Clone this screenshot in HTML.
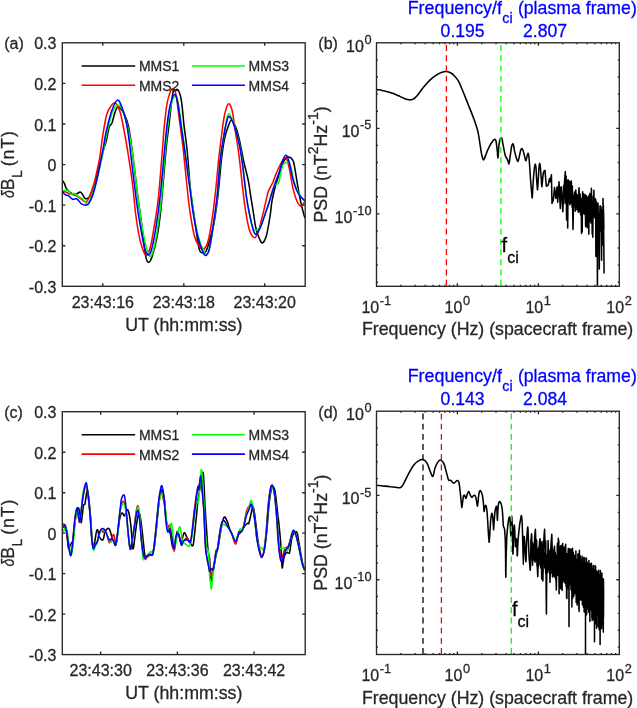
<!DOCTYPE html>
<html><head><meta charset="utf-8"><title>MMS wave figure</title>
<style>html,body{margin:0;padding:0;background:#fff}svg{display:block}text{stroke-width:0.28px;paint-order:stroke fill}</style></head>
<body>
<svg width="637" height="708" viewBox="0 0 637 708" font-family='"Liberation Sans", Arial, Helvetica, sans-serif'>
<rect width="637" height="708" fill="#fff"/>
<text x="56.4" y="49.3" font-size="16" text-anchor="end" fill="#262626" stroke="#262626">0.3</text>
<text x="56.4" y="89.9" font-size="16" text-anchor="end" fill="#262626" stroke="#262626">0.2</text>
<text x="56.4" y="130.5" font-size="16" text-anchor="end" fill="#262626" stroke="#262626">0.1</text>
<text x="56.4" y="171.1" font-size="16" text-anchor="end" fill="#262626" stroke="#262626">0</text>
<text x="56.4" y="211.6" font-size="16" text-anchor="end" fill="#262626" stroke="#262626">-0.1</text>
<text x="56.4" y="252.2" font-size="16" text-anchor="end" fill="#262626" stroke="#262626">-0.2</text>
<text x="56.4" y="292.8" font-size="16" text-anchor="end" fill="#262626" stroke="#262626">-0.3</text>
<text x="102.8" y="307.9" font-size="16" text-anchor="middle" fill="#262626" stroke="#262626">23:43:16</text>
<text x="183.8" y="307.9" font-size="16" text-anchor="middle" fill="#262626" stroke="#262626">23:43:18</text>
<text x="264.7" y="307.9" font-size="16" text-anchor="middle" fill="#262626" stroke="#262626">23:43:20</text>
<clipPath id="ca"><rect x="62.3" y="42.8" width="242.9" height="243.5"/></clipPath>
<g clip-path="url(#ca)" fill="none" stroke-width="1.55" stroke-linejoin="round" stroke-linecap="butt">
<path d="M62.3 180.5C62.6 181 63.7 182 64.4 183.3C65.1 184.6 65.2 186.8 66.3 188.4C67.3 190 69.2 191.8 70.7 192.8C72.2 193.8 73.5 194.7 75.1 194.6C76.7 194.5 78.8 192.1 80.1 192.1C81.3 192.1 81.8 193.5 82.6 194.6C83.4 195.7 84.1 197.8 85.1 198.4C86 199 87.2 198.8 88.3 198C89.3 197.2 90.1 196.8 91.4 193.4C92.8 190 94.5 184.5 96.4 177.7C98.3 170.9 101 158.9 102.7 152.6C104.4 146.3 105.5 144.2 106.5 140C107.5 135.8 108.1 130.6 109 127.7C109.9 124.8 111 125.4 112.1 122.7C113.1 120 114.2 114 115.3 111.4C116.3 108.8 116.9 106.6 118.4 107C119.9 107.4 122.4 110.7 124.1 113.9C125.8 117.2 127.2 120.4 128.5 126.5C129.8 132.6 130.8 139.8 132.2 150.4C133.6 161 135.5 177.9 137 190C138.5 202.1 139.9 211.6 141.4 222.7C142.9 233.8 144.6 250 145.8 256.6C147.1 263.2 147.9 262.2 148.9 262.2C149.9 262.2 150.7 260.9 152.1 256.6C153.5 252.3 155.6 244.5 157.1 236.5C158.6 228.5 159.4 223.2 160.9 208.8C162.4 194.4 164.7 164 166 150C167.3 136 167.9 134.3 169 125C170.1 115.7 171.6 99.7 172.7 93.9C173.8 88.1 174.5 90.6 175.5 90C176.5 89.4 177.5 88.6 178.5 90.5C179.5 92.4 180.6 95.6 181.5 101.4C182.4 107.2 183.1 117.2 184 125.3C184.9 133.4 186 139.2 187.1 150C188.2 160.8 189.3 179.2 190.5 190C191.7 200.8 192.6 205.4 194 215C195.4 224.6 197.5 241.5 198.9 247.8C200.3 254.1 201.5 252.2 202.7 252.8C203.8 253.4 204.8 253.3 205.8 251.6C206.9 249.9 207.7 247.4 209 242.8C210.3 238.2 212.3 231.6 213.8 224C215.3 216.4 216.5 207.7 217.8 197C219.1 186.3 220.3 169.7 221.4 160C222.5 150.3 223.4 144.4 224.5 139C225.6 133.6 226.5 130.8 227.7 127.7C228.9 124.6 230 120 231.5 120.2C233 120.4 235 125 236.5 129C238 133 239.1 138.8 240.3 144.1C241.5 149.4 242.3 155 243.6 161C244.9 167 246.9 173.6 248.2 180.2C249.5 186.8 250.3 193.7 251.4 200.3C252.5 206.9 253.8 215.4 254.5 220C255.2 224.6 255 224.5 255.8 227.7C256.6 230.9 258.4 236.5 259.5 239C260.6 241.5 261.5 243.4 262.7 242.8C263.9 242.2 265.2 239.8 266.5 235.2C267.8 230.6 269.3 220.9 270.2 215.1C271.1 209.3 271.2 205.1 272.1 200.3C273 195.5 274.1 191.1 275.3 186.5C276.5 181.9 278.1 177.3 279.5 173C280.9 168.7 282.5 163.4 284 160.7C285.5 158 286.9 157.1 288.4 157C289.9 156.9 291.8 158.3 292.8 160.1C293.9 161.9 294 163.8 294.7 167.6C295.4 171.4 296.2 177.2 297.2 182.7C298.1 188.1 299.2 194.9 300.4 200.3C301.5 205.8 303.3 212.5 304.1 215.4C304.9 218.3 304.9 217.6 305 218" stroke="#000"/>
<path d="M62.3 191.5C62.9 191.6 64.6 191.7 65.7 192.1C66.8 192.5 67.7 193.4 68.8 193.8C69.9 194.2 71.3 194.2 72.6 194.6C73.8 194.9 74.8 195.2 76.3 195.9C77.8 196.6 79.8 197.9 81.4 199C83 200.1 84.5 202.6 85.8 202.2C87.1 201.8 88.2 199.5 89.5 196.5C90.8 193.5 92.5 188.8 93.9 184C95.3 179.2 96.7 172.3 97.7 167.6C98.7 162.9 99.2 161.3 100 156C100.8 150.7 101.6 142.8 102.7 136C103.8 129.2 105.2 120 106.5 115.2C107.8 110.4 108.8 109 110.3 107C111.8 105 113.6 102 115.3 103C117 104 118.6 107 120.3 112.7C122 118.4 123.8 129.1 125.3 137C126.8 144.9 127.8 151.8 129.1 160.1C130.4 168.4 131.8 177.8 132.9 187C134 196.2 134.7 206.6 135.8 215C136.9 223.4 138.2 231.5 139.5 237.7C140.8 243.9 142.6 249.4 143.9 252.2C145.2 255 145.9 255.8 147.1 254.7C148.2 253.5 149.6 250.4 150.8 245.3C152.1 240.2 153.3 231.9 154.6 223.9C155.9 215.9 157.1 209.8 158.4 197.5C159.7 185.2 161.4 162.2 162.4 150C163.4 137.8 163.7 131.7 164.5 124C165.3 116.3 166.1 109.2 167 103.9C167.9 98.6 169.2 94.5 170.2 92C171.2 89.5 172 88.3 172.9 88.6C173.8 88.9 174.9 90.1 175.8 93.9C176.7 97.7 177.4 104.6 178.3 111.5C179.2 118.4 180.7 128.9 181.5 135.3C182.3 141.7 182.3 140.9 183.3 150C184.3 159.1 186.3 179.6 187.4 190C188.5 200.4 188.9 204.8 190.1 212.6C191.3 220.3 192.9 230.8 194.5 236.5C196.1 242.2 198 244.3 199.5 246.5C201 248.7 202 250.5 203.5 249.5C205 248.5 206.9 245.4 208.3 240.3C209.7 235.2 210.9 226.7 212.1 218.9C213.3 211.2 214.2 203.6 215.3 193.8C216.4 184 217.6 169.6 218.6 160C219.6 150.4 220.4 144 221.4 136.5C222.4 129 223.3 120.6 224.5 115.2C225.7 109.8 227 104.7 228.3 103.9C229.6 103.1 230.9 105.8 232.1 110.2C233.2 114.6 234 122.8 235.2 130.3C236.3 137.8 237.8 145.8 239 155.4C240.2 165 241.5 178.4 242.6 187.7C243.7 197 244.5 204.3 245.7 211.4C246.8 218.5 248 225.8 249.5 230.2C251 234.6 253 237.5 254.5 237.7C256 237.9 256.9 235.3 258.3 231.5C259.7 227.7 261.4 220.1 262.7 215.1C263.9 210.1 264.9 205.5 265.8 201.6C266.7 197.7 267.2 194.7 268.3 191.5C269.4 188.3 271.3 185.8 272.7 182.7C274.1 179.6 275 176 276.5 172.7C278 169.3 279.9 165 281.5 162.6C283.1 160.2 284.6 157.4 285.9 158.2C287.2 159 288 162.7 289.1 167.6C290.2 172.5 291.6 182.2 292.8 187.7C294.1 193.1 295.3 197.2 296.6 200.3C297.9 203.4 299.1 205.6 300.4 206C301.6 206.4 303.3 203.6 304.1 202.8C304.9 202 304.9 201.3 305 201" stroke="#f00"/>
<path d="M62.3 191.5C63 191.2 65.2 190 66.3 190C67.4 190 68 190.8 68.8 191.5C69.6 192.2 70.5 194 71.3 194.3C72.1 194.6 72.8 193.1 73.8 193.4C74.8 193.7 76.1 195 77.6 195.9C79.1 196.8 80.9 197.7 82.6 199C84.2 200.3 85.8 204.5 87.5 203.5C89.2 202.5 91 197.3 92.7 192.8C94.4 188.3 96 182.9 97.7 176.4C99.4 169.9 101.4 159.9 102.7 153.8C104 147.7 104.6 144.3 105.5 140C106.4 135.7 106.8 132.7 108 128C109.2 123.3 111 115.8 112.5 112C114 108.2 115.6 105.6 117.2 105.1C118.8 104.6 120.3 105.5 122 109C123.7 112.5 125.7 118.3 127.5 126C129.3 133.7 131.3 144.7 132.9 155.4C134.5 166.1 135.6 178.8 137 190C138.4 201.2 139.9 213.5 141.4 222.7C142.9 231.9 144.4 239.7 145.8 245.3C147.2 250.9 148.8 255.5 150 256.3C151.2 257.1 152.1 254.4 153.3 250.3C154.5 246.2 155.7 240.3 157.1 231.5C158.5 222.7 160.1 211.1 161.5 197.5C162.9 183.9 164.2 162 165.3 150C166.4 138 166.9 132.8 167.8 125.3C168.8 117.8 169.8 110.1 171 105.2C172.2 100.3 174 96.2 175.2 95.8C176.4 95.4 177.1 97.5 178.2 103C179.3 108.5 180.9 121.2 182 129C183.1 136.8 183.6 139.8 185 150C186.4 160.2 189 179.3 190.5 190C192 200.7 192.5 206.2 193.8 213.9C195.1 221.7 196.7 230.5 198.3 236.5C199.9 242.5 201.8 247.1 203.3 250C204.8 252.9 206 254.6 207.1 254.1C208.2 253.6 208.9 252 210 247C211.1 242 212.4 232.4 213.6 224C214.8 215.6 216.2 207.2 217.3 196.5C218.4 185.8 219.4 169.6 220.4 160C221.4 150.4 222.4 145.5 223.4 139C224.4 132.5 225.4 125.2 226.4 121C227.4 116.8 227.9 113.3 229.2 113.9C230.5 114.5 232.4 119.8 234 124.5C235.6 129.2 237.7 136.2 239 142C240.3 147.8 240.9 150.5 242.1 159.5C243.3 168.5 245 187 246.2 196C247.4 205 248.2 208.1 249.3 213.5C250.4 218.9 252 225.7 253 228.5C254 231.3 254.7 230.1 255.5 230.2C256.3 230.3 257.1 229.7 258 229C258.9 228.3 259.4 229.2 260.8 226C262.2 222.8 265.1 213.9 266.5 210C267.9 206.1 268.1 205.5 269 202.5C269.9 199.5 270.9 195 272 192C273.1 189 274.2 186 275.3 184.6C276.4 183.2 277.6 184.9 278.4 183.3C279.2 181.7 279.6 178.2 280.3 175.2C281 172.2 281.8 167.2 282.8 165.1C283.9 163 285.4 162.4 286.6 162.4C287.9 162.4 289.1 161.9 290.3 165.1C291.6 168.3 292.8 177.1 294.1 181.5C295.4 185.9 296.6 188.8 297.9 191.5C299.1 194.2 300.4 196.1 301.6 197.8C302.8 199.5 304.4 201 305 201.6" stroke="#0f0"/>
<path d="M62.3 190.9C62.8 191.5 63.9 193.8 65 194.6C66.1 195.4 67.5 195.1 68.8 195.9C70.1 196.7 71.2 198.8 72.6 199.3C74 199.8 75.5 198.2 77 199C78.5 199.8 79.8 202.8 81.4 203.8C83 204.8 85.2 205.2 86.4 205.1C87.7 205 87.9 205 88.9 203.4C90 201.8 91.5 199 92.7 195.3C94 191.7 95.2 186.7 96.4 181.5C97.7 176.3 98.9 170.2 100.2 163.9C101.5 157.6 103 149.4 104 143.8C105 138.2 105.2 135.7 106.5 130.3C107.8 124.9 109.7 116.4 111.5 111.4C113.3 106.4 115.5 100.9 117.2 100.1C118.9 99.3 120 102.4 121.6 106.4C123.2 110.4 125.3 118.1 126.6 124C127.9 129.9 128.2 133.9 129.3 142C130.4 150.1 131.9 164.7 132.9 172.7C133.9 180.7 134.2 182.9 135.1 190C136 197.1 137 205.8 138.5 215C140 224.2 142.4 238.7 143.9 245.3C145.4 251.9 146.4 254 147.7 254.7C149 255.4 150.1 254.2 151.5 249.7C152.9 245.2 154.4 236.8 155.9 227.7C157.4 218.6 158.9 207.9 160.3 195C161.7 182.1 163.4 161.6 164.5 150C165.6 138.4 166.1 132.8 167 125.3C167.9 117.8 168.9 110.3 170.2 105.2C171.4 100.1 173.2 94.9 174.5 94.5C175.8 94.1 176.5 97 177.7 102.7C178.9 108.5 180.3 121.1 181.5 129C182.7 136.9 183.2 139.8 184.6 150C186 160.2 188.6 179.3 190.1 190C191.6 200.7 192 206.2 193.3 213.9C194.6 221.7 196.1 230.2 197.7 236.5C199.3 242.8 201.3 248.5 202.7 251.6C204.1 254.7 205 255.9 206.2 255.3C207.3 254.7 208.4 253 209.6 247.8C210.8 242.6 212.2 232.5 213.4 223.9C214.7 215.3 216 207 217.1 196.3C218.2 185.7 219.2 169.6 220.2 160C221.2 150.4 222.3 145.2 223.3 139C224.3 132.8 225.4 126.5 226.4 122.7C227.4 118.9 227.9 116 229.2 116.4C230.5 116.8 232.4 120.8 234 125.2C235.6 129.6 237.6 136.5 239 142.8C240.4 149.1 241.1 154.1 242.3 163C243.5 171.9 245.2 188 246.4 196.5C247.6 205 248.3 208.3 249.5 213.9C250.7 219.5 252.2 226.8 253.3 230.2C254.5 233.5 255.1 234.6 256.4 234C257.6 233.4 259.1 230.4 260.8 226.4C262.5 222.4 265.1 214 266.5 210.1C267.9 206.2 267.8 206.7 269 202.8C270.2 198.9 272.3 191.5 274 186.5C275.7 181.5 277.5 177.1 279 172.7C280.5 168.3 281.6 163 282.8 160.1C284 157.2 285.1 155 286.2 155.3C287.2 155.6 288 158.1 289.1 162C290.2 165.9 291.6 174.2 292.8 178.9C294.1 183.6 295.3 187.4 296.6 190.3C297.9 193.2 299.1 194.9 300.4 196.5C301.6 198.1 303.3 199.3 304.1 200C304.9 200.7 304.9 200.4 305 200.5" stroke="#00f"/>
</g>
<path d="M62.3 83.4L65.3 83.4M305.2 83.4L302.2 83.4M62.3 124L65.3 124M305.2 124L302.2 124M62.3 164.6L65.3 164.6M305.2 164.6L302.2 164.6M62.3 205.1L65.3 205.1M305.2 205.1L302.2 205.1M62.3 245.7L65.3 245.7M305.2 245.7L302.2 245.7M102.8 286.3L102.8 283.3M102.8 42.8L102.8 45.8M183.8 286.3L183.8 283.3M183.8 42.8L183.8 45.8M264.7 286.3L264.7 283.3M264.7 42.8L264.7 45.8" stroke="#262626" stroke-width="1.35" fill="none"/>
<rect x="62.3" y="42.8" width="242.9" height="243.5" fill="none" stroke="#262626" stroke-width="1.35"/>
<path d="M81.6 65.9H135.2" stroke="#000" stroke-width="1.55"/>
<text x="138.9" y="71.3" font-size="14.0" text-anchor="start" fill="#262626" stroke="#262626">MMS1</text>
<path d="M81.6 85.2H135.2" stroke="#f00" stroke-width="1.55"/>
<text x="138.9" y="90.6" font-size="14.0" text-anchor="start" fill="#262626" stroke="#262626">MMS2</text>
<path d="M191.9 65.9H244.9" stroke="#0f0" stroke-width="1.55"/>
<text x="248.6" y="71.3" font-size="14.0" text-anchor="start" fill="#262626" stroke="#262626">MMS3</text>
<path d="M191.9 85.2H244.9" stroke="#00f" stroke-width="1.55"/>
<text x="248.6" y="90.6" font-size="14.0" text-anchor="start" fill="#262626" stroke="#262626">MMS4</text>
<text x="4.2" y="49.3" font-size="16" text-anchor="start" fill="#262626" stroke="#262626">(a)</text>
<text x="183.8" y="330.7" font-size="17.75" text-anchor="middle" fill="#262626" stroke="#262626">UT (hh:mm:ss)</text>
<g transform="translate(14.3 165.4) rotate(-90)">
<text transform="translate(-32.7 0) scale(0.8 1)" x="0" y="0" font-size="17.6" font-style="italic" fill="#262626" stroke="#262626">δ</text>
<text x="-24.8" y="0" font-size="17.6" fill="#262626" stroke="#262626">B</text>
<text x="-12.6" y="8.1" font-size="14.1" fill="#262626" stroke="#262626">L</text>
<text x="-0.9" y="0" font-size="17.6" letter-spacing="1" fill="#262626" stroke="#262626">(nT)</text>
</g>
<text x="56.4" y="418.2" font-size="16" text-anchor="end" fill="#262626" stroke="#262626">0.3</text>
<text x="56.4" y="458.7" font-size="16" text-anchor="end" fill="#262626" stroke="#262626">0.2</text>
<text x="56.4" y="499.2" font-size="16" text-anchor="end" fill="#262626" stroke="#262626">0.1</text>
<text x="56.4" y="539.6" font-size="16" text-anchor="end" fill="#262626" stroke="#262626">0</text>
<text x="56.4" y="580.1" font-size="16" text-anchor="end" fill="#262626" stroke="#262626">-0.1</text>
<text x="56.4" y="620.6" font-size="16" text-anchor="end" fill="#262626" stroke="#262626">-0.2</text>
<text x="56.4" y="661.1" font-size="16" text-anchor="end" fill="#262626" stroke="#262626">-0.3</text>
<text x="100.7" y="676.2" font-size="16" text-anchor="middle" fill="#262626" stroke="#262626">23:43:30</text>
<text x="177.4" y="676.2" font-size="16" text-anchor="middle" fill="#262626" stroke="#262626">23:43:36</text>
<text x="254.1" y="676.2" font-size="16" text-anchor="middle" fill="#262626" stroke="#262626">23:43:42</text>
<clipPath id="cc"><rect x="62.3" y="411.7" width="242.9" height="242.9"/></clipPath>
<g clip-path="url(#cc)" fill="none" stroke-width="1.55" stroke-linejoin="round" stroke-linecap="butt">
<path d="M62.4 524.3C62.9 524.4 64.5 524.1 65.2 525.2C65.9 526.3 66 527.3 66.5 531C67 534.7 67.8 544.8 68.3 547.5C68.8 550.2 69 547.7 69.5 547C70 546.3 70.7 544.3 71.3 543.1C71.9 541.9 72.4 543.2 73 540C73.6 536.8 74.2 528.7 74.8 524C75.4 519.3 75.9 514.7 76.5 512C77.1 509.3 78 507.5 78.6 508C79.2 508.5 79.6 512.5 80 515C80.4 517.5 80.8 522.9 81.2 522.9C81.6 522.9 81.9 517.9 82.3 515C82.7 512.1 83.1 507.2 83.5 505.4C83.9 503.6 84.5 505.4 84.9 504C85.3 502.6 85.6 499.2 86 497C86.4 494.8 86.8 490.7 87.2 490.5C87.6 490.3 88 491.9 88.5 496C89 500.1 89.8 508.2 90.4 515C91 521.8 91.5 531.8 91.9 537C92.3 542.2 92.6 544.9 93 546C93.4 547.1 93.9 545.9 94.4 543.6C95 541.3 95.8 534.6 96.3 532.3C96.8 530 97.2 529.3 97.7 529.9C98.2 530.5 98.5 534.4 99.1 536C99.7 537.6 100.8 539.3 101.5 539.8C102.2 540.3 102.9 540.1 103.4 538.9C104 537.6 104.2 533.9 104.8 532.3C105.3 530.7 106 530 106.7 529.4C107.4 528.8 108.4 528 109 528.5C109.6 529 110 530.9 110.5 532.3C111 533.7 111.4 535.5 111.9 537C112.5 538.5 113.2 540.2 113.8 541.5C114.4 542.8 115 546.4 115.7 545C116.4 543.6 117.1 537.2 117.7 533C118.3 528.8 119 523.1 119.5 520C120 516.9 120.5 515.4 121 514.2C121.5 513.1 122 512.8 122.6 513.1C123.1 513.4 123.6 516.2 124.3 515.8C125 515.4 125.9 511.8 126.5 510.9C127.1 510 127.5 509.2 128.1 510.3C128.7 511.4 129.2 513.9 129.8 517.5C130.4 521.1 131 527.2 131.4 531.8C131.8 536.4 132.2 542.2 132.5 545C132.8 547.8 132.9 549.7 133.3 548.5C133.7 547.3 134.3 541.9 134.8 538C135.3 534.1 135.9 528.9 136.4 525.2C136.9 521.5 137.5 518 138 516C138.5 514 138.9 512.7 139.3 513C139.7 513.3 140.1 515.4 140.5 518C140.9 520.6 141.3 523.3 141.9 528.5C142.5 533.7 143.6 544.7 144.1 549.3C144.6 553.9 144.6 554.8 145.2 555.9C145.8 557 146.6 556.2 147.4 555.9C148.2 555.6 149.2 554.5 150.1 554.3C150.9 554.1 151.8 556 152.5 554.8C153.2 553.6 153.6 551.7 154.3 547.1C155 542.5 155.8 534.4 156.5 527.4C157.2 520.4 158.1 510.6 158.7 505C159.3 499.4 159.8 496.5 160.3 494C160.9 491.5 161.3 489.1 162 490C162.7 490.9 163.6 494.8 164.3 499.6C165 504.4 165.4 514.3 166 519C166.6 523.7 167.1 525.5 167.8 528C168.5 530.5 169.7 531.2 170.4 534C171.1 536.8 171.5 542.5 172.1 545C172.7 547.5 173.5 550.2 174.1 549C174.7 547.8 175.4 540.9 175.9 538C176.4 535.1 176.6 532.5 177 531.8C177.4 531.1 177.8 532.1 178.5 534C179.2 535.9 180.3 542.3 181 543C181.7 543.7 181.9 539.8 182.5 538C183.1 536.2 183.6 532.5 184.3 532.4C185.1 532.3 185.9 535.5 187 537.4C188.1 539.3 189.9 542.7 190.9 544C191.9 545.3 192.5 546.9 193.1 545.1C193.7 543.3 194.1 537.8 194.7 533C195.2 528.2 195.8 522 196.4 516.5C197 511 197.4 504.8 198 500C198.6 495.2 199.4 491.7 200 488C200.6 484.3 200.9 480.4 201.5 478C202.1 475.6 202.7 469.4 203.3 473.7C203.9 478 204.4 494.6 204.9 504C205.4 513.4 206.1 522.3 206.6 530C207.1 537.7 207.5 545.3 208 550C208.5 554.7 209.2 555.2 209.6 558.2C209.9 561.2 209.8 564.2 210.1 568C210.4 571.8 211 580.2 211.4 580.9C211.8 581.6 212.1 574.5 212.5 572C212.9 569.5 213.5 568.3 214 566C214.5 563.7 215 560.5 215.5 558C216 555.5 216.5 553.2 217 551C217.5 548.8 218 547.5 218.5 545C219 542.5 219.4 539.5 220 536C220.6 532.5 221.3 527.2 222 524C222.7 520.8 223.6 517.5 224.4 517C225.2 516.5 226.3 519.2 227.1 520.9C227.9 522.6 228.3 525 229 527C229.7 529 230.4 530.6 231.5 533C232.6 535.4 234.3 541.1 235.4 541.5C236.5 541.9 237.1 536.9 238.1 535.2C239.1 533.5 240.6 532.6 241.6 531.2C242.6 529.8 243.1 528.3 244 527C244.9 525.7 246.3 524.1 247.1 523.5C247.9 522.9 248.1 524.6 248.7 523.5C249.2 522.4 249.8 519.3 250.4 516.9C251 514.5 251.6 510.9 252 509.2C252.4 507.5 252.6 505.9 253 506.5C253.4 507.1 253.9 509.2 254.5 513C255.1 516.8 255.9 524.3 256.5 529C257.1 533.7 257.4 537.3 258 541C258.6 544.7 259.2 548.4 259.8 551C260.4 553.6 261.1 556.6 261.8 556.5C262.6 556.4 263.5 554.2 264.3 550.3C265.1 546.4 265.8 540.4 266.6 533C267.4 525.6 268.2 513 268.9 506C269.6 499 270.3 494.2 271 491C271.7 487.8 272.3 486.9 273 487C273.7 487.1 274.4 487.4 275.1 491.6C275.9 495.8 276.9 506.5 277.5 512C278.1 517.5 278.5 519.8 279 524.6C279.5 529.4 280.1 535.4 280.5 541C280.9 546.6 281.2 553.5 281.5 558C281.8 562.5 281.9 567.2 282.2 567.9C282.5 568.6 282.8 564 283.2 562C283.6 560 283.9 557.4 284.5 555.8C285.1 554.2 285.8 553 286.6 552.5C287.4 552 288.8 553.9 289.4 553C290 552.1 290.1 549.6 290.5 547C290.9 544.4 291.4 539.6 292.1 537.1C292.8 534.6 294.1 532.8 294.9 532.1C295.7 531.4 296.5 531.1 297.1 532.7C297.7 534.3 298.1 538.3 298.7 541.5C299.3 544.7 299.9 548.4 300.5 552C301.1 555.6 301.9 560.2 302.5 563C303.1 565.8 303.8 567.8 304.2 569C304.6 570.2 304.9 569.8 305 570" stroke="#000"/>
<path d="M62.5 523.8C62.7 523.9 63.1 524.2 63.5 524.7C63.9 525.2 64.5 525.6 65 527C65.5 528.4 66 530 66.6 533C67.2 536 67.8 541.3 68.5 545C69.2 548.7 69.9 555 70.6 555C71.3 555 71.9 550.3 72.5 545C73.1 539.7 73.7 529 74.4 523C75.1 517 76.2 510.2 76.8 509C77.4 507.8 77.8 513.8 78.2 516C78.7 518.2 79 523.1 79.5 522.4C80 521.7 80.4 516.2 81 512C81.6 507.8 82.2 501.3 83 497C83.8 492.7 84.9 486.7 85.7 486C86.5 485.3 86.9 488.2 87.6 493C88.3 497.8 89.4 507.6 90.1 514.9C90.8 522.2 91.1 531.4 91.6 537C92.1 542.6 92.6 547 93.2 548.3C93.8 549.5 94.7 545.6 95.4 544.5C96.1 543.4 96.7 543.5 97.3 541.7C97.9 540 98.4 536.1 99.1 534C99.8 531.9 100.9 529.3 101.5 529C102.1 528.7 102.4 532 102.9 532.3C103.4 532.6 103.9 530.7 104.5 531C105.1 531.3 106 532.1 106.7 534C107.5 535.9 108.4 541 109 542.2C109.6 543.4 110 541.8 110.5 541C111 540.2 111.5 538.6 112 537.5C112.5 536.4 113.2 534 113.7 534.6C114.2 535.2 114.8 539.4 115.2 541C115.6 542.6 115.6 545.2 116 544C116.4 542.8 116.9 538.8 117.5 534C118.1 529.2 118.9 520 119.5 515C120.1 510 120.6 506.2 121.3 504C122 501.8 123 500.8 123.7 501.5C124.4 502.2 125.1 503.9 125.7 508C126.3 512.1 126.9 520.5 127.5 526.3C128.1 532.1 128.6 538.9 129.1 542.7C129.6 546.5 130 549.7 130.6 549C131.2 548.3 131.7 542.6 132.4 538.4C133.1 534.2 133.9 528.6 134.6 524C135.2 519.4 135.7 514 136.3 511C136.9 508 137.4 504.7 138 505.9C138.6 507.1 139.1 512.6 139.7 518C140.2 523.4 140.8 532.2 141.3 538C141.9 543.8 142.3 549.1 143 552.6C143.7 556.1 144.5 558.5 145.2 559.2C145.9 559.9 146.6 557.7 147.4 557C148.2 556.3 149.3 555.4 150.1 555C150.9 554.6 151.7 556.3 152.3 554.8C153 553.3 153.4 550.6 154 546C154.6 541.4 155.3 534.1 156 527.4C156.7 520.7 157.6 511.2 158.2 506C158.8 500.8 159.2 498.3 159.8 496C160.4 493.7 160.9 491.7 161.5 492.4C162.1 493.1 162.9 497.2 163.5 500C164.1 502.8 164.6 505.7 165 509C165.4 512.3 165.7 517 166.2 520C166.7 523 167.4 526.1 168 527C168.6 527.9 169.3 523.9 169.9 525.2C170.5 526.5 170.8 530.7 171.5 535C172.2 539.3 173.4 550.3 174.1 551C174.8 551.7 175.3 541.8 175.9 539C176.5 536.2 177 534.5 177.6 534C178.2 533.5 178.7 534.4 179.3 536.3C180 538.1 180.8 544.3 181.5 545.1C182.2 545.9 182.8 542.2 183.7 541C184.6 539.8 185.9 537.7 187 537.9C188.1 538.1 189.5 543.3 190.3 542.3C191.1 541.3 191.4 536.7 192 532C192.6 527.3 193.3 518.8 193.8 514.3C194.3 509.8 194.6 508.4 195 505C195.4 501.6 196 496.8 196.5 494C197 491.2 197.5 489.7 198 488C198.5 486.3 199 485.7 199.5 484C200 482.3 200.5 476.9 200.9 478C201.3 479.1 201.7 485.6 202.2 490.8C202.7 496.1 203.4 503.3 203.8 509.5C204.2 515.7 204.3 521.3 204.6 528C204.9 534.7 205.2 544 205.7 549.5C206.2 555 206.9 557.4 207.6 561.1C208.3 564.8 209.1 569 209.7 571.5C210.3 574 210.8 576.6 211.4 576.2C212 575.8 212.5 571.5 213 569C213.5 566.5 214 564 214.5 561C215 558 215.5 553.2 216 551C216.5 548.8 217 550.2 217.5 548C218 545.8 218.3 542 218.9 538C219.5 534 220.5 527.1 221.3 524.2C222.1 521.3 222.6 520.4 223.6 520.6C224.6 520.8 225.8 523.1 227.1 525.3C228.4 527.4 230.1 530.4 231.5 533.5C232.9 536.6 234.3 543.6 235.4 544C236.5 544.4 237.2 538.1 238 536C238.8 533.9 239.4 532.3 240 531.5C240.6 530.7 241 531.9 241.6 531C242.2 530.1 242.8 528.5 243.5 526C244.2 523.5 244.9 518.8 245.5 516C246.1 513.2 246.4 510.9 247.1 509.2C247.8 507.5 248.8 506.8 249.5 506C250.2 505.2 250.6 503.4 251.3 504.5C252 505.6 252.9 508.4 253.7 512.5C254.5 516.6 255.3 524.5 255.9 529C256.4 533.5 256.4 535.8 257 539.3C257.6 542.8 258.4 547.3 259.2 550.3C260 553.3 260.8 557.4 261.6 557.4C262.4 557.4 263.4 554.4 264.1 550.3C264.8 546.2 265.3 540.6 266 533C266.7 525.4 267.5 512.2 268.2 504.8C268.9 497.4 269.7 491.4 270.4 488.3C271.1 485.2 271.6 485.1 272.3 486C273 486.9 273.7 488.8 274.4 494C275.1 499.2 276 509.1 276.6 517C277.2 524.9 277.6 535 278.2 541.5C278.8 548 279.4 553.1 280 556C280.6 558.9 281.1 559.9 281.7 559.1C282.3 558.3 283.3 553.2 283.9 551.4C284.5 549.5 284.8 548.9 285.5 548C286.2 547.1 287.5 547.5 288.3 546C289.1 544.5 289.9 541.2 290.5 539C291.1 536.8 291.6 534.4 292.1 533C292.7 531.6 293.1 529.8 293.8 530.5C294.5 531.2 295.6 533.9 296.5 537C297.4 540.1 298.4 544.8 299.3 549C300.2 553.2 301.2 559.1 302 562.4C302.8 565.7 303.7 567.7 304.2 569C304.7 570.3 304.9 569.8 305 570" stroke="#f00"/>
<path d="M62.4 531C62.6 531 63.2 531.4 63.7 530.8C64.2 530.2 64.9 527.3 65.5 527.5C66.1 527.7 66.6 528.9 67.2 532C67.8 535.1 68.5 542.2 69.2 546C69.9 549.8 70.6 555.3 71.3 555C72 554.7 72.6 549.3 73.2 544C73.8 538.7 74.3 528.7 75 523C75.7 517.3 76.6 511.2 77.2 510C77.8 508.8 78.1 514.2 78.6 516C79.1 517.8 79.6 521.8 80 521C80.4 520.2 80.7 515.5 81.2 511C81.7 506.5 82.1 498.3 82.8 494C83.5 489.7 84.7 485.3 85.5 485C86.3 484.7 87 487.2 87.8 492.2C88.6 497.2 89.4 507.4 90.1 514.9C90.8 522.4 91.2 531.1 91.8 537C92.4 542.9 92.9 548.6 93.5 550.1C94.1 551.6 94.8 547.3 95.4 546C96 544.7 96.7 544.3 97.3 542.5C97.9 540.7 98.4 537.1 99.1 535C99.8 532.9 100.6 530.8 101.5 530C102.4 529.2 103.4 529.8 104.3 530.5C105.2 531.2 106 533 106.7 534.5C107.4 536 107.9 538.2 108.6 539.5C109.3 540.8 110.2 542.3 110.9 542.2C111.6 542.1 112 539.1 112.5 539C113 538.9 113.3 540.7 113.8 541.7C114.3 542.7 115.1 546.2 115.7 545.2C116.3 544.2 116.9 540.9 117.5 536C118.1 531.1 118.9 520.8 119.5 516C120.1 511.2 120.6 509.1 121.2 507C121.8 504.9 122.5 503.4 123.2 503.7C123.9 504 124.8 505.2 125.5 509C126.2 512.8 127 520.7 127.6 526.3C128.2 531.9 128.7 538.9 129.2 542.7C129.7 546.5 130.1 550 130.7 549.3C131.2 548.6 131.8 542.4 132.5 538.4C133.2 534.4 134 529.6 134.7 525.2C135.4 520.8 135.9 514.9 136.5 512C137.1 509.1 137.8 506.4 138.4 507.6C139 508.8 139.5 513.9 140 519C140.5 524.1 141 531.5 141.5 538C142 544.5 142.4 554.7 143 558.1C143.6 561.5 144.3 559 145 558.5C145.7 558 146.5 556.2 147.4 555C148.3 553.8 149.8 551.8 150.7 551.5C151.6 551.2 152.2 553.9 152.8 553C153.4 552.1 153.7 550.3 154.3 546C154.9 541.7 155.7 534.2 156.4 527.4C157.1 520.6 157.9 510.1 158.6 505C159.2 499.9 159.7 498.3 160.3 496.5C160.9 494.7 161.4 493.4 162.1 494C162.8 494.6 163.7 497.3 164.3 500C164.9 502.7 165.1 506.4 165.5 510C165.9 513.6 166.1 518.6 166.5 521.9C166.9 525.2 167.4 529.1 168 530C168.6 530.9 169.3 528.1 169.9 527C170.5 525.9 171.1 522.3 171.6 523.6C172.1 524.9 172.4 531.2 173 535C173.6 538.8 174.3 545.6 174.9 546.2C175.5 546.8 176.1 541 176.6 538.5C177.1 536 177.6 532.9 178.2 531C178.8 529.1 179.4 526.4 179.9 526.9C180.4 527.4 180.9 531.5 181.3 534C181.8 536.5 181.9 540.1 182.6 541.8C183.3 543.5 184.3 543.3 185.4 544C186.5 544.7 188.3 546.7 189.2 546.2C190.1 545.7 190.4 543.2 191 541C191.6 538.8 191.9 537.5 192.5 533C193.1 528.5 194.1 518.6 194.7 514.3C195.2 510 195.4 509.1 195.8 507C196.2 504.9 196.8 502.9 197.2 502C197.6 501.1 198 503.8 198.4 501.8C198.8 499.8 199.1 494.3 199.5 490C199.9 485.7 200.3 479.4 200.7 476C201 472.6 201.2 468.4 201.6 469.9C201.9 471.4 202.4 478.5 202.8 485C203.2 491.5 203.9 501.9 204.3 509C204.7 516.1 204.6 521.3 205 527.5C205.4 533.7 205.9 541.8 206.5 546C207.1 550.2 208 548 208.5 552.7C209 557.4 209.2 569.2 209.5 574.3C209.8 579.3 210.2 580.6 210.5 583C210.8 585.4 211.1 589.2 211.4 588.9C211.7 588.6 212 583.8 212.3 581C212.6 578.2 212.9 575.6 213.3 572.4C213.7 569.2 214.2 565.5 214.7 562C215.2 558.5 215.7 553.8 216.2 551.6C216.7 549.4 217.2 551 217.7 549C218.2 547 218.4 543.2 219.1 539.4C219.8 535.6 220.9 528.5 221.8 526C222.7 523.5 223.5 524.5 224.4 524.7C225.3 524.9 226.3 525.6 227.5 527C228.7 528.4 230.2 530.6 231.5 533C232.8 535.4 234.3 541.3 235.4 541.5C236.5 541.7 237.3 536.1 238.1 534C238.9 531.9 239.4 529.7 240 529C240.6 528.3 241 530.5 241.6 530C242.2 529.5 243.1 528.3 243.8 526C244.5 523.7 245.2 519 246 516C246.8 513 247.8 510.6 248.7 508C249.6 505.4 250.5 500.1 251.3 500.4C252.1 500.7 252.8 505.2 253.5 510C254.2 514.8 255.1 524.1 255.7 529C256.3 533.9 256.5 536.6 257 539.3C257.5 542 258.1 543.7 258.5 545C258.9 546.3 259.3 546.6 259.7 547C260.1 547.4 260.5 547.2 261 547.6C261.5 548 262 549 262.5 549.2C263 549.4 263.5 551.7 264.1 549C264.7 546.3 265.6 540.3 266.3 533C267 525.7 267.8 512.2 268.5 505C269.2 497.8 270 492.8 270.7 490C271.4 487.2 271.9 487.2 272.5 488C273.1 488.8 273.9 490.2 274.6 495C275.3 499.8 276.2 509.8 276.8 517C277.4 524.2 277.9 533.2 278.4 538C278.8 542.8 279.1 544.2 279.5 546C279.9 547.8 280 548.3 280.6 548.6C281.2 548.9 282.3 548.1 283 548C283.7 547.9 284.3 547.5 285 548.1C285.7 548.7 286.6 551.6 287.2 551.4C287.8 551.2 288.2 548.9 288.8 547C289.4 545.1 289.9 542.3 290.5 540C291.1 537.7 291.6 535 292.1 533.4C292.7 531.8 293.1 529.9 293.8 530.5C294.5 531.1 295.6 533.9 296.5 537C297.4 540.1 298.4 544.7 299.3 549C300.2 553.3 301.2 559.5 302 563C302.8 566.5 303.7 568.6 304.2 570C304.7 571.4 304.9 571 305 571.2" stroke="#0f0"/>
<path d="M62.4 528C62.8 527.7 64 525.9 64.7 526.4C65.4 526.9 66 528 66.6 531C67.2 534 67.8 540.4 68.5 544.5C69.2 548.6 70.1 556 70.8 555.8C71.5 555.5 72.1 548.6 72.7 543C73.3 537.4 73.9 527.9 74.6 522C75.3 516.1 76.4 508.8 77 507.8C77.6 506.8 77.9 513.5 78.4 515.8C78.9 518.1 79.3 522.2 79.8 521.4C80.3 520.6 80.7 515.3 81.2 511.1C81.8 506.9 82.3 500.7 83.1 496C83.9 491.3 85.1 483.4 85.9 482.8C86.7 482.2 87.1 486.9 87.8 492.2C88.5 497.5 89.5 507.4 90.1 514.9C90.7 522.4 91.1 531.4 91.6 537C92.1 542.6 92.6 547 93.2 548.3C93.8 549.5 94.7 545.6 95.4 544.5C96.1 543.4 96.7 543.5 97.3 541.7C97.9 540 98.4 536.1 99.1 534C99.8 531.9 100.6 529.8 101.5 529C102.4 528.2 103.4 528.6 104.3 529.4C105.2 530.2 106 532.4 106.7 534C107.4 535.6 108 538 108.6 539C109.2 540 110 539.9 110.5 539.8C111 539.7 111.4 538.1 111.9 538.4C112.5 538.7 113.2 540.6 113.8 541.7C114.4 542.8 115 546.5 115.6 545C116.2 543.5 116.9 538.5 117.6 533C118.3 527.5 119.2 517.7 119.9 512C120.6 506.3 120.8 501.6 121.5 498.8C122.2 496 123.6 494 124.3 495.3C125 496.6 125.4 501.3 125.9 506.5C126.5 511.7 127 520.3 127.6 526.3C128.1 532.3 128.7 538.9 129.2 542.7C129.7 546.5 130.1 550 130.7 549.3C131.2 548.6 131.8 542.4 132.5 538.4C133.2 534.4 134 529.2 134.7 525.2C135.3 521.2 135.8 516.6 136.4 514.2C137 511.8 137.4 509.8 138 510.9C138.6 512 139.1 516 139.7 520.8C140.2 525.6 140.8 534.2 141.3 539.5C141.9 544.8 142.4 549.5 143 552.6C143.6 555.7 144.2 557.6 144.9 558.1C145.6 558.6 146.5 556.5 147.4 555.9C148.3 555.3 149.3 554.5 150.1 554.3C150.9 554.1 151.7 556 152.3 554.8C153 553.6 153.3 551.7 154 547.1C154.7 542.5 155.5 534.6 156.2 527.4C156.9 520.2 157.8 509.9 158.4 504C159 498.1 159.4 495 160 492C160.6 489 161.2 484.5 161.9 485.8C162.6 487.1 163.6 493.6 164.3 499.6C165 505.6 165.4 516.5 166 521.9C166.6 527.3 167 530.6 167.7 531.8C168.3 533 169.3 528.3 169.9 529C170.5 529.7 170.8 533 171.5 536.2C172.2 539.4 173.4 548 174.1 548.2C174.8 548.4 175.3 539.8 175.9 537.3C176.5 534.8 177 533.7 177.6 533.5C178.2 533.3 178.7 534.4 179.3 536.3C180 538.2 180.8 544.4 181.5 545.1C182.2 545.8 182.7 541.5 183.7 540.7C184.7 539.9 186.5 539.8 187.6 540.1C188.7 540.4 189.6 543.5 190.3 542.3C191 541.1 191.3 537.7 192 533C192.7 528.3 193.7 518.6 194.2 514.3C194.7 510 194.7 510.5 195.1 507.3C195.5 504.1 196.2 498.7 196.7 495.2C197.2 491.7 197.6 487.3 198 486.4C198.4 485.5 198.6 490.8 198.9 489.7C199.2 488.6 199.7 482 200 479.8C200.3 477.6 200.5 474.7 200.9 476.5C201.3 478.3 201.7 485.3 202.2 490.8C202.7 496.3 203.4 503.3 203.8 509.5C204.2 515.7 204.3 521.3 204.6 528C204.9 534.7 205.2 544 205.7 549.5C206.2 555 207.1 558.4 207.6 561.1C208.1 563.8 208.2 564.1 208.6 565.8C208.9 567.5 209.1 571 209.7 571.5C210.2 572 211.3 569 211.9 568.7C212.5 568.4 212.8 570.9 213.3 569.6C213.8 568.3 214.2 564.1 214.7 561.1C215.2 558.1 215.6 553.6 216.1 551.7C216.6 549.8 217 551.8 217.5 549.8C218 547.8 218.6 541.8 218.9 539.4C219.2 537 219.1 537.7 219.5 535.2C219.9 532.7 220.9 526.7 221.6 524.2C222.3 521.7 222.9 520.1 223.8 520.3C224.7 520.5 225.8 523.2 227.1 525.3C228.4 527.4 230.1 530.3 231.5 533C232.9 535.7 234.3 541.1 235.4 541.5C236.5 541.9 237.5 536.7 238.1 535.2C238.7 533.7 238.2 533 238.8 532.3C239.4 531.6 240.8 532.1 241.6 531.2C242.4 530.3 243.1 529.2 243.8 526.8C244.5 524.4 245.2 519.6 246 516.9C246.8 514.1 247.8 512.4 248.7 510.3C249.6 508.2 250.5 503.8 251.3 504.2C252.1 504.6 252.9 508.4 253.7 512.5C254.5 516.6 255.3 524.5 255.9 529C256.4 533.5 256.4 535.8 257 539.3C257.6 542.8 258.4 547.3 259.2 550.3C260 553.3 260.8 557.4 261.6 557.4C262.4 557.4 263.3 554.4 264.1 550.3C264.9 546.2 265.6 540.6 266.3 533C267 525.4 267.8 512.2 268.5 504.8C269.2 497.4 270 491.5 270.7 488.3C271.4 485.1 271.9 484.6 272.5 485.5C273.1 486.4 273.9 488.6 274.6 493.8C275.3 499.1 276.2 509.1 276.8 517C277.4 525 277.9 534.9 278.4 541.5C278.9 548.1 279.5 553.5 280 556.9C280.5 560.3 280.8 561.8 281.4 561.8C282 561.8 282.7 558.8 283.4 556.9C284.1 555 284.7 551.9 285.5 550.3C286.3 548.6 287.5 548.7 288.3 547C289.1 545.3 289.9 542.3 290.5 540C291.1 537.7 291.6 535 292.1 533.4C292.7 531.8 293.1 529.9 293.8 530.5C294.5 531.1 295.6 533.9 296.5 537C297.4 540.1 298.4 544.8 299.3 549C300.2 553.2 301.2 559.1 302 562.4C302.8 565.7 303.7 567.7 304.2 569C304.7 570.3 304.9 569.8 305 570" stroke="#00f"/>
</g>
<path d="M62.3 452.2L65.3 452.2M305.2 452.2L302.2 452.2M62.3 492.7L65.3 492.7M305.2 492.7L302.2 492.7M62.3 533.1L65.3 533.1M305.2 533.1L302.2 533.1M62.3 573.6L65.3 573.6M305.2 573.6L302.2 573.6M62.3 614.1L65.3 614.1M305.2 614.1L302.2 614.1M100.7 654.6L100.7 651.6M100.7 411.7L100.7 414.7M177.4 654.6L177.4 651.6M177.4 411.7L177.4 414.7M254.1 654.6L254.1 651.6M254.1 411.7L254.1 414.7" stroke="#262626" stroke-width="1.35" fill="none"/>
<rect x="62.3" y="411.7" width="242.9" height="242.9" fill="none" stroke="#262626" stroke-width="1.35"/>
<path d="M81.6 434.8H135.2" stroke="#000" stroke-width="1.55"/>
<text x="138.9" y="440.2" font-size="14.0" text-anchor="start" fill="#262626" stroke="#262626">MMS1</text>
<path d="M81.6 454.1H135.2" stroke="#f00" stroke-width="1.55"/>
<text x="138.9" y="459.5" font-size="14.0" text-anchor="start" fill="#262626" stroke="#262626">MMS2</text>
<path d="M191.9 434.8H244.9" stroke="#0f0" stroke-width="1.55"/>
<text x="248.6" y="440.2" font-size="14.0" text-anchor="start" fill="#262626" stroke="#262626">MMS3</text>
<path d="M191.9 454.1H244.9" stroke="#00f" stroke-width="1.55"/>
<text x="248.6" y="459.5" font-size="14.0" text-anchor="start" fill="#262626" stroke="#262626">MMS4</text>
<text x="4.2" y="418.2" font-size="16" text-anchor="start" fill="#262626" stroke="#262626">(c)</text>
<text x="183.8" y="699" font-size="17.75" text-anchor="middle" fill="#262626" stroke="#262626">UT (hh:mm:ss)</text>
<g transform="translate(14.3 533.9) rotate(-90)">
<text transform="translate(-32.7 0) scale(0.8 1)" x="0" y="0" font-size="17.6" font-style="italic" fill="#262626" stroke="#262626">δ</text>
<text x="-24.8" y="0" font-size="17.6" fill="#262626" stroke="#262626">B</text>
<text x="-12.6" y="8.1" font-size="14.1" fill="#262626" stroke="#262626">L</text>
<text x="-0.9" y="0" font-size="17.6" letter-spacing="1" fill="#262626" stroke="#262626">(nT)</text>
</g>
<text x="361.4" y="312.5" font-size="16" text-anchor="start" fill="#262626" stroke="#262626">10</text>
<text x="379.8" y="304.9" font-size="12.8" text-anchor="start" fill="#262626" stroke="#262626">-1</text>
<text x="444.5" y="312.5" font-size="16" text-anchor="start" fill="#262626" stroke="#262626">10</text>
<text x="462.9" y="304.9" font-size="12.8" text-anchor="start" fill="#262626" stroke="#262626">0</text>
<text x="525.4" y="312.5" font-size="16" text-anchor="start" fill="#262626" stroke="#262626">10</text>
<text x="543.8" y="304.9" font-size="12.8" text-anchor="start" fill="#262626" stroke="#262626">1</text>
<text x="606.3" y="312.5" font-size="16" text-anchor="start" fill="#262626" stroke="#262626">10</text>
<text x="624.7" y="304.9" font-size="12.8" text-anchor="start" fill="#262626" stroke="#262626">2</text>
<text x="346" y="51.8" font-size="16" text-anchor="start" fill="#262626" stroke="#262626">10</text>
<text x="364.4" y="43.9" font-size="12.8" text-anchor="start" fill="#262626" stroke="#262626">0</text>
<text x="341.7" y="137.3" font-size="16" text-anchor="start" fill="#262626" stroke="#262626">10</text>
<text x="360.1" y="129.4" font-size="12.8" text-anchor="start" fill="#262626" stroke="#262626">-5</text>
<text x="334.6" y="222.8" font-size="16" text-anchor="start" fill="#262626" stroke="#262626">10</text>
<text x="353" y="214.9" font-size="12.8" text-anchor="start" fill="#262626" stroke="#262626">-10</text>
<clipPath id="cb"><rect x="376.5" y="42.8" width="242.8" height="243.5"/></clipPath>
<g clip-path="url(#cb)" fill="none" stroke-width="1.55">
<path d="M376.5 89.5C377.4 89.7 380 90 382 90.4C384 90.8 386.6 91.4 388.6 92C390.6 92.6 392.3 93.2 394 93.8C395.7 94.4 397.3 95.2 398.6 95.8C399.9 96.4 400.9 96.9 402 97.4C403.1 97.9 404 98.3 404.9 98.7C405.8 99.1 406.7 99.4 407.5 99.6C408.3 99.8 409.1 99.9 409.9 99.9C410.6 99.9 411.4 99.8 412 99.6C412.6 99.4 413.1 99.3 413.7 98.9C414.3 98.5 414.9 98 415.5 97.4C416.1 96.8 416.7 96.2 417.5 95.2C418.3 94.2 419.5 92.6 420.5 91.2C421.5 89.8 422.6 88.3 423.7 87C424.8 85.7 425.9 84.5 427 83.3C428.1 82.1 429 81.1 430 80.1C431 79.1 432.1 78.2 433.1 77.4C434.2 76.6 434.9 75.9 436.3 75.1C437.7 74.3 439.6 73.2 441.3 72.6C443 72 444.7 71.5 446.4 71.6C448.1 71.7 450.1 72.5 451.4 73.2C452.7 73.9 453 74.5 454.1 75.7C455.2 76.9 456.9 78.4 458.2 80.6C459.5 82.8 460.8 86.2 462 89C463.2 91.8 464.3 94.8 465.3 97.3C466.3 99.8 467.1 101.7 468 104C468.9 106.3 470 108.9 471 111.4C472 114 473.2 117.1 474 119.3C474.8 121.5 475.2 122.7 475.8 124.5C476.4 126.3 477 128 477.5 130C478 132 478.2 132.5 478.8 136.3C479.4 140.1 480.7 149 481.3 152.6C481.9 156.2 482.2 156.8 482.6 158C483 159.2 483.3 159.8 483.6 159.9C483.9 160 484.1 159.1 484.5 158.3C484.9 157.5 485 157 485.7 155.2C486.4 153.4 487.6 149.9 488.8 147.6C490 145.3 491.7 142.6 492.6 141.3C493.5 140 493.6 140 494 139.7C494.4 139.4 494.8 139.2 495.1 139.4C495.4 139.6 495.8 140.1 496 141C496.2 141.9 496.4 143.3 496.6 145.1C496.8 146.9 497.2 149.8 497.4 152C497.6 154.2 497.7 158.3 497.9 158.3C498.1 158.3 498.2 154.4 498.4 152C498.6 149.6 498.8 145.9 499.1 143.8C499.4 141.7 499.6 140.5 500 139.5C500.4 138.5 500.8 137.6 501.2 137.6C501.6 137.6 501.9 138.5 502.2 139.5C502.5 140.5 502.4 141.2 502.9 143.8C503.4 146.4 504.5 152.7 505.2 155.2C505.9 157.7 506.6 157.8 507.1 158.9C507.6 160 508 161.2 508.3 162C508.6 162.8 508.7 164.1 508.9 163.9C509.1 163.7 509.2 162.7 509.5 161C509.8 159.3 510.1 156.3 510.5 153.9C510.9 151.5 511.2 148.2 511.6 146.5C512 144.8 512.4 143.9 512.7 143.8C513.1 143.7 513.4 144.7 513.7 146C514 147.3 514.1 149.3 514.6 151.4C515.1 153.5 516 156.8 516.5 158.5C517 160.2 517.4 161.2 517.7 161.4C518.1 161.6 518.3 160.5 518.6 159.5C518.9 158.5 519.2 156.8 519.6 155.2C520 153.6 520.3 151.3 520.7 150.2C521.1 149.1 521.4 148.6 521.8 148.6C522.2 148.6 522.5 149.1 522.9 150C523.3 150.9 523.6 152.4 524 153.9C524.4 155.4 524.9 157.7 525.2 158.8C525.5 160 525.6 161 525.9 160.8C526.2 160.6 526.4 158.8 526.8 157.5C527.1 156.2 527.6 153.4 528 153.3C528.4 153.2 528.6 154.8 528.9 157C529.2 159.2 529.4 162 529.7 166.5C530 171 530.5 179.4 530.9 184C531.2 188.6 531.6 191.7 531.8 194C532 196.3 532.1 198.2 532.2 197.9C532.3 197.6 532.4 195.2 532.6 192C532.8 188.8 533.1 183 533.4 179C533.7 175 534.1 170.5 534.4 168C534.7 165.5 535 163.9 535.3 163.9C535.6 163.9 535.8 165.5 536 168C536.2 170.5 536.4 175.8 536.6 179C536.8 182.2 537.1 185.2 537.2 187C537.4 188.8 537.4 190 537.5 189.7C537.6 189.4 537.7 187.4 537.9 185C538.1 182.6 538.3 178.4 538.5 175.3C538.7 172.2 538.9 168.5 539.1 166.5C539.3 164.5 539.5 163.3 539.7 163.3C539.9 163.3 540.1 164.5 540.3 166.5C540.5 168.5 540.8 172.4 541 175.3C541.2 178.2 541.5 182.1 541.6 184C541.8 185.9 541.8 186.9 541.9 186.6C542 186.3 542.2 184.1 542.4 182C542.6 179.9 542.9 175.8 543.2 174C543.5 172.2 544 171.4 544.1 170.9L545 170.4L546.3 186.3L548.2 185L549.5 178.6L550.3 181.8L551.4 174.8L552 203.4L553.3 200.3L554.5 187.5L555.8 198.3L557.1 186.9L557.7 202.2L559 181.8L560.3 208.5L560.9 187L561.5 186.9L562.8 211.7L563.6 192L564.1 188.2L564.8 178L565.3 171.6L565.7 200L566.1 176L566.6 220L567 181L567.3 180.5L567.7 227.9L568.1 179.8L568.6 197L569.1 181L569.6 196L570.1 182L570.6 197.5L571.3 180.9L571.8 197L572.3 186L573 229.6L573.6 196L574.1 207L574.6 192L575.2 204L575.8 190L576.4 203L577 209.8L577.6 195L578.2 205L579 187.7L579.6 206L580.1 194L580.7 215L581.2 199L581.5 233.5L581.9 205L582.2 232L582.6 191.7L582.7 197.4L583 211.2L583.4 194.8L583.5 193.8L583.8 201.7L584.1 208.9L584.5 201L584.7 199.2L584.9 194.5L585.2 200.7L585.6 222.3L585.6 226.6L586 196.7L586.1 195.7L586.5 203.1L586.7 214.5L586.9 212.5L587.2 227.7L587.5 200.5L587.5 200.4L587.9 215.6L588.2 197L588.3 196.8L588.6 199.5L588.8 234.1L589.2 195.4L589.6 221.6L589.8 201.3L590 193.4L590.4 197.1L590.7 209.6L590.8 205.3L591 223.1L591.4 188.5L591.4 188.3L591.8 214.4L592 196L592.2 234.1L592.5 204.5L592.8 237.2L593.1 200.7L593.5 209.7L593.6 212.7L593.9 190.3L594.1 208.9L594.4 202.6L594.7 210.6L594.9 205.9L595.1 217.2L595.4 198.9L595.7 215.7L595.9 256.5L596.3 211.8L596.5 201.7L596.9 221.8L597 230L597.3 215.9L597.4 290L597.6 247.6L597.9 206.4L598 203.2L598.4 225L598.4 225.1L598.6 215.6L598.9 243.7L599.1 236.3L599.3 269L599.6 224.4L600 206.8L600 206.4L600.2 205.8L600.5 221.4L600.7 231L601 206.7L601.3 219.5L601.6 260.3L601.7 232.7L601.9 224.4L602 225.9L602.2 219.5L602.4 245L602.6 209.6L602.8 239.1L603 198.5L603.2 214.7L603.4 205.9L604.1 273.4" stroke="#000" stroke-width="1.55" stroke-linejoin="round"/>
<path d="M562 197.6L562.2 200.3L562.4 199.9L562.8 204.6L563.1 195.3L563.2 195.2L563.5 204.1L563.8 186.1L564 185.2L564.3 194.3L564.4 195.6L564.8 187.8L564.8 187.7L565.1 193.6L565.4 203.1L565.6 199.5L565.9 202.5L566.3 191.7L566.6 183.4L566.7 183.4L567 198.2L567.1 201.5L567.4 187.7L567.7 195.5L568 203.3L568.3 185.9L568.4 185.2L568.8 196.7L568.9 199.4L569.2 191.7L569.5 188.8L569.8 204.7L570.1 191.8L570.5 203L570.5 203.2L570.7 200.3L570.8 200.8L571.1 195.3L571.4 198.1L571.7 191.5L572.1 206.9L572.4 191.8L572.7 206.5L573 197.1L573.3 202.8L573.6 195.7L573.9 198.7L574.3 194.8L574.6 206.2L574.9 197.8L575.2 211.2L575.6 197.2L575.6 197.1L576 198.4L576.2 207.6L576.5 194L576.9 200.7L577 200.2L577.4 202.6L577.6 209.9L577.8 204.5L577.9 206.8L578.1 201.6L578.3 212.3L578.6 198.8L579 209.5L579 210.7L579.3 199.6L579.6 211.8L579.8 202L580 206.4L580.2 199.6L580.4 204.1L580.7 197.7L580.9 212L581.2 200L581.5 213.4L581.8 200.8L581.9 203.1L582.1 201L582.4 211.7L582.5 205L582.7 213.5L583 208.6L583.2 211.6L583.5 204.6L583.7 209.7L583.9 204.2L584.2 214.1L584.5 197.9L584.6 197.1L584.9 202.8L585.1 196.8L585.4 214.4L585.8 204.4L586.1 201.8L586.4 212.8L586.6 196.1L586.9 210.8L587 201.3L587.2 203.6L587.4 198L587.6 213.3L587.7 206.9L587.8 211L588.1 199.8L588.3 215.1L588.5 201.3L588.9 206.7L589.1 208.9L589.3 205.5L589.5 215.9L589.8 202.5L590 204.1L590.1 203.4L590.4 211.7L590.6 202.6L590.8 216.4L591.1 199.8L591.2 198.8L591.4 201.3L591.5 201.1L591.9 205.6L592.2 215.8L592.5 201.2L592.6 200.8L592.9 213.1L593 213L593.1 217.3L593.5 197.2L593.7 205.4L593.8 202L594 214.7L594.2 209.7L594.3 213.5L594.5 204.5L594.8 210.1L594.8 210.2L594.9 210L595 217.9L595.2 208.2L595.3 213.8L595.5 199.2L595.7 217.5L595.8 202L596.1 215L596.3 206.7L596.6 213.2L596.7 211.7L597 227.4L597.2 220.4L597.4 222.3L597.5 219.6L597.7 226.4L597.8 218.7L597.9 221.3L598.1 216.1L598.5 227.5L598.5 227.6L598.7 219.4L598.9 229.9L599.1 218.4L599.2 229.1L599.4 216.9L599.5 220.3L599.6 218.2L599.7 223.4L599.8 212.9L600 227.1L600.2 213.6L600.4 218.4L600.6 213.6L600.7 221.2L600.8 214.9L601 226.7L601.1 215.1L601.2 222.6L601.3 221.1L601.4 229L601.5 216.5L601.7 220.2L601.8 218.8L601.9 229.5L602.1 214.4L602.2 230L602.4 222.2L602.5 225.6L602.7 217.5L602.9 231L603.2 218.1L603.3 230L603.4 213L603.6 229.1" stroke="#000" stroke-width="1.55" stroke-linejoin="round"/>
<path d="M446.4 42.8V286.3" stroke="#f00" stroke-width="1.3" stroke-dasharray="5.9 4.3" stroke-dashoffset="7.9"/>
<path d="M500.9 42.8V286.3" stroke="#0f0" stroke-width="1.3" stroke-dasharray="5.9 4.3" stroke-dashoffset="7.9"/>
</g>
<path d="M400.9 286.3L400.9 284.8M400.9 42.8L400.9 44.3M415.1 286.3L415.1 284.8M415.1 42.8L415.1 44.3M425.2 286.3L425.2 284.8M425.2 42.8L425.2 44.3M433.1 286.3L433.1 284.8M433.1 42.8L433.1 44.3M439.5 286.3L439.5 284.8M439.5 42.8L439.5 44.3M444.9 286.3L444.9 284.8M444.9 42.8L444.9 44.3M449.6 286.3L449.6 284.8M449.6 42.8L449.6 44.3M453.7 286.3L453.7 284.8M453.7 42.8L453.7 44.3M457.4 286.3L457.4 283.3M457.4 42.8L457.4 45.8M481.8 286.3L481.8 284.8M481.8 42.8L481.8 44.3M496 286.3L496 284.8M496 42.8L496 44.3M506.2 286.3L506.2 284.8M506.2 42.8L506.2 44.3M514 286.3L514 284.8M514 42.8L514 44.3M520.4 286.3L520.4 284.8M520.4 42.8L520.4 44.3M525.8 286.3L525.8 284.8M525.8 42.8L525.8 44.3M530.5 286.3L530.5 284.8M530.5 42.8L530.5 44.3M534.7 286.3L534.7 284.8M534.7 42.8L534.7 44.3M538.4 286.3L538.4 283.3M538.4 42.8L538.4 45.8M562.7 286.3L562.7 284.8M562.7 42.8L562.7 44.3M577 286.3L577 284.8M577 42.8L577 44.3M587.1 286.3L587.1 284.8M587.1 42.8L587.1 44.3M594.9 286.3L594.9 284.8M594.9 42.8L594.9 44.3M601.3 286.3L601.3 284.8M601.3 42.8L601.3 44.3M606.8 286.3L606.8 284.8M606.8 42.8L606.8 44.3M611.5 286.3L611.5 284.8M611.5 42.8L611.5 44.3M615.6 286.3L615.6 284.8M615.6 42.8L615.6 44.3M376.5 59.9L378 59.9M619.3 59.9L617.8 59.9M376.5 77L378 77M619.3 77L617.8 77M376.5 94.1L378 94.1M619.3 94.1L617.8 94.1M376.5 111.2L378 111.2M619.3 111.2L617.8 111.2M376.5 128.3L379.5 128.3M619.3 128.3L616.3 128.3M376.5 145.4L378 145.4M619.3 145.4L617.8 145.4M376.5 162.5L378 162.5M619.3 162.5L617.8 162.5M376.5 179.6L378 179.6M619.3 179.6L617.8 179.6M376.5 196.7L378 196.7M619.3 196.7L617.8 196.7M376.5 213.8L379.5 213.8M619.3 213.8L616.3 213.8M376.5 230.9L378 230.9M619.3 230.9L617.8 230.9M376.5 248L378 248M619.3 248L617.8 248M376.5 265.1L378 265.1M619.3 265.1L617.8 265.1M376.5 282.2L378 282.2M619.3 282.2L617.8 282.2" stroke="#262626" stroke-width="1.35" fill="none"/>
<rect x="376.5" y="42.8" width="242.8" height="243.5" fill="none" stroke="#262626" stroke-width="1.35"/>
<text x="318.3" y="49.3" font-size="16" text-anchor="start" fill="#262626" stroke="#262626">(b)</text>
<text x="497.6" y="335.4" font-size="17.75" text-anchor="middle" fill="#262626" stroke="#262626">Frequency (Hz) (spacecraft frame)</text>
<g transform="translate(326.8 164.4) rotate(-90)">
<text x="0" y="0" font-size="17.8" text-anchor="middle" fill="#262626" stroke="#262626">PSD (nT<tspan font-size="14.1" dy="-8.6">2</tspan><tspan dy="8.6">Hz</tspan><tspan font-size="14.1" dy="-8.6">-1</tspan><tspan dy="8.6">)</tspan></text>
</g>
<text x="407.7" y="13.8" font-size="17.85" fill="#00f" stroke="#00f">Frequency/f</text>
<text x="502.2" y="22.6" font-size="14.4" fill="#00f" stroke="#00f">ci</text>
<text x="517.9" y="13.8" font-size="17.7" fill="#00f" stroke="#00f">(plasma frame)</text>
<text x="440.6" y="36.8" font-size="17.6" text-anchor="start" fill="#00f" stroke="#00f">0.195</text>
<text x="523" y="36.8" font-size="17.6" text-anchor="start" fill="#00f" stroke="#00f">2.807</text>
<text x="501.6" y="251.5" font-size="20" fill="#000" stroke="#000">f<tspan font-size="16" dy="11.6">ci</tspan></text>
<text x="361.4" y="680.7" font-size="16" text-anchor="start" fill="#262626" stroke="#262626">10</text>
<text x="379.8" y="673.1" font-size="12.8" text-anchor="start" fill="#262626" stroke="#262626">-1</text>
<text x="444.5" y="680.7" font-size="16" text-anchor="start" fill="#262626" stroke="#262626">10</text>
<text x="462.9" y="673.1" font-size="12.8" text-anchor="start" fill="#262626" stroke="#262626">0</text>
<text x="525.4" y="680.7" font-size="16" text-anchor="start" fill="#262626" stroke="#262626">10</text>
<text x="543.8" y="673.1" font-size="12.8" text-anchor="start" fill="#262626" stroke="#262626">1</text>
<text x="606.3" y="680.7" font-size="16" text-anchor="start" fill="#262626" stroke="#262626">10</text>
<text x="624.7" y="673.1" font-size="12.8" text-anchor="start" fill="#262626" stroke="#262626">2</text>
<text x="346" y="420.2" font-size="16" text-anchor="start" fill="#262626" stroke="#262626">10</text>
<text x="364.4" y="412.3" font-size="12.8" text-anchor="start" fill="#262626" stroke="#262626">0</text>
<text x="341.7" y="504.4" font-size="16" text-anchor="start" fill="#262626" stroke="#262626">10</text>
<text x="360.1" y="496.6" font-size="12.8" text-anchor="start" fill="#262626" stroke="#262626">-5</text>
<text x="334.6" y="588.7" font-size="16" text-anchor="start" fill="#262626" stroke="#262626">10</text>
<text x="353" y="580.8" font-size="12.8" text-anchor="start" fill="#262626" stroke="#262626">-10</text>
<clipPath id="cd"><rect x="376.5" y="411.2" width="242.8" height="243.3"/></clipPath>
<g clip-path="url(#cd)" fill="none" stroke-width="1.55">
<path d="M376.5 485.2C377.6 485.3 380.7 485.8 383 486C385.3 486.2 388.1 486.4 390.4 486.7C392.7 486.9 395.4 487.3 397 487.5C398.6 487.7 399.2 487.9 400 487.7C400.8 487.5 401.2 487.2 401.8 486.5C402.4 485.8 402.6 485.5 403.8 483.3C405 481.1 407.1 476.3 408.8 473.3C410.5 470.3 412.1 467.2 413.8 465.1C415.5 463 417.3 461.6 418.8 460.7C420.3 459.8 421.6 459.1 423 459.5C424.4 459.9 425.8 461.2 427 463.2C428.2 465.2 429.4 469.4 430.2 471.4C431 473.4 431.4 474.5 431.8 475.3C432.2 476.1 432.4 476.5 432.7 476.4C433 476.3 433.2 476 433.6 474.5C434 473 434.4 469.8 435.2 467.6C436 465.4 437.4 462.6 438.3 461.4C439.2 460.1 439.9 459.7 440.8 460.1C441.8 460.5 443.1 461.8 444 463.9C444.9 466 445.8 470.1 446.5 472.7C447.2 475.3 447.9 478.3 448.4 479.6C448.9 480.9 449.2 480.2 449.6 480.3C450 480.4 450.4 480.2 450.9 480.5C451.4 480.8 452 481.8 452.5 482.3C453 482.8 453.4 483.4 454 483.3C454.6 483.2 455.3 482 455.8 481.5C456.3 481 456.8 480.6 457.2 480.5C457.6 480.4 457.9 480.6 458.2 481C458.5 481.4 458.6 480.7 459 482.7C459.4 484.7 459.9 489.4 460.3 492.8C460.7 496.2 461 500.5 461.3 503C461.6 505.5 461.7 507.8 461.9 507.8C462.1 507.8 462.2 504.9 462.5 503C462.8 501.1 463.1 497.8 463.4 496.5C463.7 495.2 463.9 495.4 464.1 495.2C464.3 495 464.5 494.9 464.7 495.3C464.9 495.7 465.2 496.8 465.4 497.3C465.6 497.8 465.7 498.8 466 498.4C466.3 498 466.6 496.1 467 495C467.4 493.9 468.1 491.8 468.5 491.5C468.9 491.2 469.2 492.4 469.5 493C469.8 493.6 470.1 494.7 470.4 495.3C470.7 495.9 471 496.5 471.3 496.8C471.6 497.1 471.8 497.4 472.2 497.2C472.6 497 473.1 495.9 473.5 495.6C473.9 495.3 474.3 495.1 474.7 495.3C475.1 495.5 475.4 496.2 475.7 497C476 497.8 476.2 499.1 476.4 500.3C476.6 501.6 476.9 503.6 477.1 504.5C477.3 505.4 477.4 506.4 477.5 506C477.6 505.6 477.8 504 478 502C478.2 500 478.6 495.8 478.9 494C479.2 492.2 479.4 491.9 479.6 491.3C479.8 490.8 480 490.5 480.3 490.7C480.6 490.9 481.1 491.6 481.5 492.5C481.9 493.4 482.3 494.5 482.6 496.4C482.9 498.3 483.2 501.5 483.5 504C483.8 506.5 483.9 511 484.1 511.5C484.3 512 484.6 508.1 484.9 507C485.2 505.9 485.4 505.2 485.7 505.2C485.9 505.2 486.2 505.9 486.4 507C486.6 508.1 486.8 509.2 487 511.5C487.2 513.8 487.5 517.9 487.7 521C487.9 524.1 488 527.4 488.2 530.3C488.4 533.2 488.6 536.5 488.8 538.5C489 540.5 489.1 542.6 489.2 542.2C489.3 541.8 489.4 539.6 489.7 536C489.9 532.4 490.4 523.8 490.7 520.3C491 516.8 491.2 516.2 491.4 515C491.6 513.8 491.8 513.2 492 513.3C492.2 513.4 492.3 514.3 492.5 515.5C492.7 516.7 492.9 518.5 493 520.3C493.1 522.1 493.3 524.9 493.4 526.5C493.5 528.1 493.5 530.1 493.6 529.7C493.7 529.3 493.8 526.8 494 524C494.2 521.2 494.6 515.4 494.9 512.7C495.2 510 495.4 509.1 495.7 508C495.9 506.9 496.2 506.1 496.4 506.4C496.6 506.7 496.7 507.7 496.9 510C497.1 512.3 497.2 520 497.4 520.3C497.5 520.6 497.6 514.5 497.8 512C498 509.5 498.1 506.8 498.3 505.2C498.5 503.6 498.8 502.9 499 502.3C499.2 501.7 499.5 501.5 499.8 501.7C500.1 501.9 500.6 502.5 501 503.5C501.4 504.5 501.7 505.8 502 507.7C502.3 509.6 502.5 512.1 502.7 515C502.9 517.9 503.1 523.2 503.3 525.3C503.5 527.4 503.7 526.9 503.9 527.5C504.1 528.1 504.3 527.4 504.5 529C504.7 530.6 504.9 533.5 505.1 537C505.3 540.5 505.4 543.3 505.5 550C505.6 556.7 505.7 576.5 505.8 577.3C505.9 578.1 506 561.7 506.2 555C506.4 548.3 506.6 541.8 506.8 537C507.1 532.2 507.4 529.3 507.7 526.5C508 523.7 508.3 521.6 508.6 520C508.9 518.4 509.2 516.5 509.5 517C509.8 517.5 510 519.8 510.2 523C510.4 526.2 510.6 536.4 510.8 536.4C511 536.4 511.1 526.4 511.2 523C511.3 519.6 511.5 515.6 511.7 516.3C511.9 517 512.1 520.7 512.3 527C512.5 533.3 512.7 552.5 512.9 554C513.1 555.5 513.3 540.8 513.5 536C513.7 531.2 514 525.8 514.2 525.1C514.4 524.4 514.6 528.4 514.8 532C515 535.6 515.2 545 515.4 546.5C515.6 548 515.7 542.3 515.9 541C516.1 539.7 516.2 538.2 516.4 538.9C516.6 539.6 516.8 542.2 516.9 545C517 547.8 517.1 556.6 517.3 555.9C517.5 555.2 517.7 545.1 518 541C518.3 536.9 518.6 534.1 518.9 531.4C519.2 528.7 519.4 526.7 519.6 525C519.8 523.3 520 522.7 520.2 521.4C520.4 520.1 520.7 518.2 520.9 517.3C521.1 516.3 521.3 515.2 521.5 515.7C521.7 516.2 521.8 517.2 522 520C522.2 522.8 522.4 528 522.5 532.7C522.6 537.4 522.8 542.7 522.9 548C523 553.3 523.2 564.7 523.3 564.7C523.4 564.7 523.6 552.7 523.7 548C523.9 543.3 524 536.6 524.2 536.4C524.4 536.2 524.7 542.8 525 547C525.3 551.2 525.6 562.6 525.9 561.6C526.2 560.6 526.4 546.8 526.7 541C527 535.2 527.4 527.7 527.7 527C528 526.3 528.1 532.3 528.3 537C528.5 541.7 528.8 550.8 529 555.3C529.2 559.8 529.5 561.6 529.7 564C529.9 566.4 530.1 572 530.3 569.7C530.5 567.4 530.6 556 530.8 550C531 544 531.3 534.6 531.5 533.9C531.7 533.2 531.8 540.8 532 546C532.2 551.2 532.4 562.1 532.5 565.3L533.4 545L534 560L534.7 536L535.4 529.3L536 548L536.6 540L537.2 566L537.8 576.6L538.4 552L539 565L539.6 541L540.1 538.8L540.7 560L541.2 549L541.7 579.1L542.3 555L542.9 581L543.5 548L544.1 535L544.6 529.3L545.2 552L545.7 541L546.4 614L546.9 556L547.5 568L548.1 540.5L548.7 566L549.3 551L550 582.5L550.6 553L551.2 541L551.8 534.3L552.4 558L553 575L553.6 552L554.5 546.3L555.1 572L555.7 556L556.3 590L556.9 560L557.2 562.3L557.3 544.9L557.4 563.2L557.5 543.2L557.7 574L557.8 551.3L557.9 563.6L558 561.2L558 566.4L558.2 541.8L558.3 563.6L558.3 538.3L558.5 569.9L558.6 549.9L558.7 568.6L558.8 540.4L559.1 593.8L559.3 548.3L559.4 564.4L559.5 547.5L559.6 579.2L559.7 567.4L559.7 569.8L559.9 546.8L560 585.8L560.1 553.2L560.2 575.7L560.2 570.3L560.3 586.9L560.4 549.4L560.5 580.7L560.6 545.7L560.7 574.8L560.8 559.9L560.8 588.7L561 552.2L561 562.9L561.1 558.8L561.2 569.1L561.4 552.2L561.5 558.7L561.5 558.2L561.6 566.2L561.7 545.3L561.8 565.8L561.8 546L561.9 573.7L562 555.6L562.1 590.4L562.3 551.8L562.4 577.2L562.5 575.4L562.5 579.4L562.6 555.3L562.6 559.3L562.7 543.6L562.9 562.7L562.9 561.3L563 580.6L563.1 548.1L563.2 565.7L563.4 547.1L563.4 550.1L563.5 548.7L563.6 569.8L563.7 556.1L563.9 575L564.1 554.5L564.2 582.7L564.3 551.8L564.3 574.8L564.4 549.3L564.6 581.1L564.7 561L564.7 562.2L564.8 555.4L564.9 568.2L565 546.6L565.1 555.9L565.1 554.2L565.2 557.1L565.2 553.2L565.3 571.8L565.4 545.9L565.6 553.8L565.7 544.2L565.8 583.9L565.9 554.1L566 582.4L566 577.7L566.1 586.5L566.2 564.1L566.2 584.8L566.4 557.8L566.4 579.1L566.5 557.7L566.6 597.7L566.7 561.9L566.7 562.6L566.8 558.2L566.9 598.6L566.9 586.9L566.9 593.5L567 553.7L567.1 588.8L567.2 557.2L567.3 571.1L567.4 562L567.5 588.7L567.6 556.4L567.7 576.5L567.7 566.4L567.8 579.3L567.9 573.8L567.9 588.4L568 557.6L568.1 562.2L568.1 550.8L568.2 559.6L568.3 548.5L568.6 576.7L568.7 556.8L568.8 583.7L568.8 582.2L568.9 582.9L568.9 574.4L569 626.4L569.1 553.7L569.2 582.5L569.2 569.1L569.3 573L569.5 551.4L569.6 584.6L569.6 562.3L569.7 582.3L569.9 548.7L570 570.2L570 566.7L570.1 577.4L570.2 555.6L570.3 564.5L570.3 564.3L570.4 575.2L570.5 550.3L570.6 584.1L570.6 565.2L570.7 575.5L570.7 553.5L570.9 585.8L570.9 572.2L571 589.5L571.1 549.3L571.1 559.5L571.2 558.3L571.3 580.5L571.4 560.3L571.4 573.9L571.5 557.9L571.5 580.1L571.6 562L571.7 591.1L571.8 557.5L571.9 606.9L572 554L572.1 584.7L572.2 567.5L572.3 582.3L572.4 552.6L572.4 556.9L572.5 548.2L572.6 583.8L572.6 574.6L572.7 594.3L572.8 576.3L572.8 598.3L573 561L573 570.5L573.1 556.9L573.2 585.5L573.3 552.2L573.4 571L573.5 559.9L573.6 575.7L573.7 564.4L573.8 567.9L573.8 557.7L573.9 596L574 568.1L574.1 578.3L574.2 561.3L574.2 583.4L574.3 571.1L574.3 585.4L574.4 555.3L574.5 588L574.6 556.2L574.7 559.6L574.7 558.2L574.9 593.4L574.9 576.8L575 582.5L575.1 563.1L575.2 580.2L575.3 566.1L575.4 585.6L575.4 567.7L575.5 583L575.5 575.9L575.6 581.5L575.6 581.4L575.6 582.1L575.7 578.2L575.7 590.5L575.8 567L575.9 591.7L575.9 550.9L576 565.7L576.1 561.9L576.1 579.3L576.1 571.1L576.2 602.4L576.2 561.8L576.3 571.4L576.3 560.3L576.4 582.1L576.5 564.3L576.6 576.3L576.6 559.2L576.7 575.8L576.7 566.9L576.8 570.6L576.9 561.5L576.9 563L577 561.1L577.1 597.9L577.1 562.7L577.2 605L577.3 562.7L577.4 581.9L577.5 566.1L577.6 592.4L577.7 559L577.8 602.8L577.9 554.1L578 587.7L578 581.4L578 600.8L578.1 554.4L578.2 561.1L578.3 554L578.4 568L578.5 558.2L578.6 596L578.6 571.9L578.7 599.4L578.7 554.6L578.9 604.9L578.9 599.1L578.9 609.8L579 568.9L579.1 611.5L579.1 582.5L579.1 598.2L579.2 568.7L579.3 586.4L579.3 584.5L579.3 598.2L579.4 550.4L579.5 582.9L579.6 561.2L579.6 586.8L579.7 556.5L579.8 590.2L579.9 559.2L579.9 576.2L580 559.7L580 577.2L580.1 565.6L580.1 568.9L580.2 555.8L580.3 598.6L580.4 560.6L580.5 585.2L580.5 584L580.6 600.1L580.7 560.4L580.8 584L580.8 583L580.8 596.4L580.9 578.4L581 590L581 586.2L581 589.1L581.1 571.9L581.1 593.6L581.2 562.2L581.3 595.9L581.3 562.8L581.4 577.7L581.4 565.2L581.5 586L581.5 572.4L581.6 600L581.7 562.9L581.8 577.6L581.8 558.6L581.9 583.1L582 558.9L582 572.2L582.1 556.2L582.1 589L582.2 563.2L582.3 580.4L582.4 565L582.4 604.5L582.5 567.7L582.6 598.7L582.6 578.8L582.7 588.2L582.8 572.4L582.8 575.8L582.9 572.2L582.9 594.3L583 567.6L583.1 606L583.1 564.7L583.2 599.9L583.3 562.3L583.4 595L583.4 586.8L583.5 595.9L583.5 577.7L583.6 607.5L583.7 585.9L583.7 602.4L583.8 557.6L583.9 563.9L583.9 561.3L584 579.1L584 576.5L584 586.9L584.1 564.2L584.2 612L584.2 583.3L584.3 592.4L584.3 563.6L584.5 609.4L584.5 570.1L584.5 585L584.6 557.7L584.7 610L584.8 595.2L584.8 596.7L584.8 591.3L584.8 592.8L584.9 567L584.9 576.9L585 570.2L585 585.5L585.1 566.9L585.1 610.4L585.2 571.3L585.2 575.5L585.3 570.9L585.3 608.3L585.4 575.2L585.4 586.7L585.4 577.6L585.5 584.3L585.5 660L585.5 600.8L585.6 576.7L585.6 593.6L585.7 570.2L585.7 596.2L585.8 566L585.9 581.5L585.9 562.4L586 574.2L586 573.9L586.1 615.2L586.1 575.3L586.2 587.3L586.2 572.2L586.3 583.2L586.3 568.4L586.4 584L586.4 557.9L586.5 592.6L586.5 567.6L586.6 596.7L586.6 578.4L586.7 592.8L586.7 587.7L586.7 614.3L586.8 583.4L586.8 587.4L586.9 569.8L586.9 602L587 583.7L587 585.3L587.1 562L587.2 569.7L587.2 569.1L587.2 582.4L587.3 568.5L587.4 593.6L587.4 576.7L587.5 608.9L587.6 571.7L587.6 577.3L587.6 570.8L587.7 594.3L587.8 572.2L587.8 576.1L587.9 564.4L588 580L588 575.8L588 583L588.1 581.8L588.1 592L588.1 575.9L588.2 600.2L588.2 575L588.2 584.2L588.3 568.7L588.3 604.1L588.3 580.7L588.4 591.8L588.4 566.1L588.5 581.5L588.5 580.2L588.5 590.5L588.6 564.3L588.6 577.6L588.7 567.9L588.7 588.9L588.8 575.3L588.8 612.2L588.9 560.6L589 597.8L589 567.6L589.1 586.1L589.1 585.7L589.1 597.7L589.1 587.3L589.2 593.9L589.2 563.9L589.3 594.8L589.3 579.4L589.3 607.5L589.4 572.1L589.4 593.9L589.5 574L589.5 611.4L589.5 605.1L589.6 606.6L589.6 576.8L589.7 596L589.8 586.5L589.8 615.5L589.9 587.5L589.9 621.5L590 572.1L590.1 595.7L590.2 563.8L590.2 594.1L590.3 566.4L590.4 592.5L590.4 575.6L590.4 584L590.5 574.2L590.5 610.3L590.6 573.3L590.6 602.1L590.6 595.3L590.7 599.5L590.7 569.1L590.8 603.9L590.9 569.8L591 603.8L591 582.2L591.1 601.7L591.1 575.2L591.2 592.9L591.2 589.4L591.2 591.1L591.3 565.6L591.3 589.2L591.4 563.3L591.4 580.5L591.4 568.4L591.5 608.6L591.5 584.3L591.6 604.4L591.7 580.9L591.7 594L591.8 568.3L591.8 599.1L591.8 575L591.9 605.6L591.9 603.1L591.9 618.1L592 585.5L592 604.3L592 585.4L592.1 598.3L592.1 571.6L592.2 594.4L592.2 590.5L592.2 620.5L592.3 587.7L592.3 596.3L592.4 584.5L592.4 589L592.4 580.2L592.5 600.2L592.5 570.9L592.5 592.4L592.6 579.2L592.6 602.5L592.6 582.5L592.6 601.8L592.7 584.6L592.7 605L592.7 576.6L592.8 589.6L592.8 572.4L592.9 583.1L592.9 579.8L592.9 596.8L592.9 584.7L593 603.1L593 594.8L593 598L593.1 589.1L593.1 594L593.1 566.7L593.2 606.8L593.2 565.5L593.3 604.3L593.3 568.4L593.3 577.2L593.3 574.3L593.4 591.6L593.4 578.9L593.4 592.5L593.5 586.8L593.5 617L593.5 578.7L593.6 599.2L593.6 581.9L593.7 608.8L593.7 586.9L593.7 619.6L593.8 576L593.8 599.6L593.9 585.7L593.9 614.6L594 576.3L594 610.9L594.1 589.5L594.1 601.8L594.2 578.6L594.3 584.9L594.3 577.5L594.3 594.1L594.4 581.6L594.4 593.7L594.4 577.2L594.4 589.7L594.5 641.8L594.5 599.5L594.6 575.6L594.6 588.2L594.6 588.1L594.6 595.8L594.7 569.2L594.7 600.7L594.7 574.5L594.8 577.5L594.8 576.3L594.8 590.8L594.9 585L594.9 616.9L594.9 610.2L594.9 613.2L595 571.2L595 591.2L595 565.6L595.1 603.7L595.1 580L595.2 611.8L595.3 576.8L595.3 605.2L595.3 580.9L595.4 596.8L595.4 575.2L595.5 617.7L595.6 566.5L595.7 623.8L595.7 583.5L595.8 590.6L595.8 578L595.9 599.6L595.9 573.6L596 605.7L596 571.7L596 606.7L596.1 573.6L596.1 601.7L596.1 583.2L596.1 592.8L596.2 580L596.2 596.8L596.3 571.6L596.4 607.5L596.4 604.5L596.4 612.1L596.4 581.4L596.5 603.1L596.5 571.1L596.6 628.2L596.6 590.6L596.6 615.9L596.7 582.8L596.7 611L596.7 581L596.8 601.4L596.8 576.4L596.8 598.2L596.8 583L596.9 597.6L596.9 591.2L596.9 598.5L597 572.3L597 599.5L597 580.2L597.1 586.4L597.1 582.1L597.1 611.1L597.1 590.8L597.2 600L597.2 599.1L597.3 613.8L597.3 584.2L597.4 593.6L597.4 588.6L597.4 614L597.5 594.3L597.5 609.5L597.5 581.4L597.6 587.7L597.6 584.2L597.6 592.2L597.6 581.7L597.7 588.6L597.7 588.1L597.7 589.5L597.7 588.7L597.7 601.2L597.8 586.3L597.8 586.4L597.8 571.7L597.9 600L597.9 585.5L598 598.3L598 593.6L598 608.9L598 586.5L598.1 599.5L598.1 592L598.1 609.2L598.2 571.6L598.3 626.6L598.3 599.8L598.3 610.6L598.4 581L598.4 595L598.5 570.3L598.6 614.9L598.7 575.8L598.7 588.2L598.8 577L598.8 595L598.9 574.8L598.9 588.6L598.9 580.1L599 620.9L599 581.5L599.1 596L599.1 585.1L599.2 616.2L599.2 595.1L599.2 629.7L599.3 579.1L599.3 591.3L599.3 578.9L599.4 625.4L599.4 587.2L599.5 613.6L599.5 582.3L599.5 592.9L599.6 580.2L599.6 601.1L599.6 588.9L599.6 592.3L599.6 580.6L599.7 627.7L599.7 608.2L599.7 614.6L599.7 586.6L599.8 595.9L599.8 581.2L599.9 603.8L599.9 596L600 603.7L600 581.2L600 614.9L600.1 644.5L600.2 594.7L600.2 574.3L600.3 615.5L600.3 570.5L600.4 599.5L600.4 582.9L600.4 597.4L600.5 583.7L600.5 603.2L600.5 600.4L600.5 622.3L600.6 589L600.6 622.4L600.7 586.7L600.7 609L600.7 595.3L600.7 617L600.8 604.2L600.8 612.8L600.8 589.8L600.8 618.5L600.9 579.6L600.9 595.1L600.9 587.2L600.9 607.9L601 574.7L601 606.6L601.1 594.6L601.1 610.7L601.2 576.9L601.2 611.5L601.2 580.2L601.3 628.7L601.3 621.3L601.3 627.9L601.3 591.9L601.4 624.7L601.4 592.1L601.4 621.5L601.5 588L601.5 613.5L601.5 586.4L601.6 608.9L601.6 585.7L601.6 620.4L601.7 585.5L601.7 602.2L601.7 585.4L601.7 617.6L601.8 584.4L601.8 619.5L601.9 588.5L601.9 592.4L601.9 573.1L602 604.4L602 583.4L602 602.8L602 577.9L602.1 598.4L602.1 592L602.1 592.2L602.1 583.5L602.2 602.2L602.2 582.6L602.3 615.4L602.3 580.8L602.3 594.1L602.4 584.6L602.4 598.5L602.4 588.8L602.5 618.4L602.5 584.2L602.6 619.7L602.6 582.5L602.7 608.5L602.7 582.2L602.7 610.3L602.8 588.4L602.8 611L602.9 584.4L602.9 591.8L602.9 587L602.9 589.7L602.9 582.1L603 628.6L603 597.8L603 601.1L603 599L603.1 606.6L603.1 604.3L603.1 606L603.1 586.7L603.2 597.3L603.2 579.1L603.2 596.2L603.2 589.1L603.3 629.9L603.3 596.8L603.3 608.5L603.3 602.6L603.3 632.1L603.4 579L603.4 608.2L603.5 581.7L603.5 594.7L603.5 589.7L603.5 616.9L603.6 588.7L603.6 599.4" stroke="#000" stroke-width="1.55" stroke-linejoin="round"/>
<path d="M531 539.2L531.4 546.8L531.8 552.6L532.1 559.7L532.5 545.5L532.7 542.7L533.1 544.3L533.5 548.9L533.7 552.8L534.1 546.8L534.3 546.2L534.7 548.7L535 562.3L535.4 545.6L535.4 545.1L535.8 557.8L535.9 560.6L536.2 546.6L536.3 546.5L536.6 557.6L536.9 549.1L537.3 565.7L537.6 549L538 556.4L538.2 552.9L538.5 566.4L538.9 547.3L539 547L539.3 552L539.7 542.9L539.8 542.2L540.1 546.6L540.5 549.7L540.8 568.1L541.2 549L541.5 560.5L541.8 543.3L542 541.5L542.4 562.9L542.4 566.7L542.7 545.1L543.1 559.7L543.4 552.2L543.7 560.1L543.9 559.2L544 559.4L544.3 554.9L544.6 567.9L544.9 552.6L545.2 557.1L545.4 554.6L545.7 572.9L546.1 556L546.3 554.8L546.7 566.6L546.9 569L547.2 559L547.3 558L547.7 569.6L547.8 572.8L548.2 561.3L548.3 560.8L548.5 569.9L548.9 555.9L549.2 568.4L549.4 558.2L549.7 566.2L549.9 562.4L550.1 573.3L550.5 548.5L550.8 573.5L551.1 550L551.4 555.4L551.7 550.7L552 554.9L552.4 567.4L552.5 577L552.8 553.5L553.2 563.9L553.5 557.7L553.7 569.8L553.9 560.4L554.2 576.8L554.4 557.7L554.7 570L554.8 565.4L555 573.9L555.3 552.5L555.6 578.9L555.7 573.9L555.8 576.7L556.1 556.5L556.3 567L556.4 563.2L556.6 572.3L556.9 555.1L557.2 560.9L557.5 559.1L557.8 576" stroke="#000" stroke-width="1.55" stroke-linejoin="round"/>
<path d="M423 411.2V654.5" stroke="#000" stroke-width="1.3" stroke-dasharray="5.9 4.3" stroke-dashoffset="7.9"/>
<path d="M441.4 411.2V654.5" stroke="#f00" stroke-width="1.3" stroke-dasharray="5.9 4.3" stroke-dashoffset="7.9"/>
<path d="M511.3 411.2V654.5" stroke="#0f0" stroke-width="1.3" stroke-dasharray="5.9 4.3" stroke-dashoffset="7.9"/>
</g>
<path d="M400.9 654.5L400.9 653M400.9 411.2L400.9 412.7M415.1 654.5L415.1 653M415.1 411.2L415.1 412.7M425.2 654.5L425.2 653M425.2 411.2L425.2 412.7M433.1 654.5L433.1 653M433.1 411.2L433.1 412.7M439.5 654.5L439.5 653M439.5 411.2L439.5 412.7M444.9 654.5L444.9 653M444.9 411.2L444.9 412.7M449.6 654.5L449.6 653M449.6 411.2L449.6 412.7M453.7 654.5L453.7 653M453.7 411.2L453.7 412.7M457.4 654.5L457.4 651.5M457.4 411.2L457.4 414.2M481.8 654.5L481.8 653M481.8 411.2L481.8 412.7M496 654.5L496 653M496 411.2L496 412.7M506.2 654.5L506.2 653M506.2 411.2L506.2 412.7M514 654.5L514 653M514 411.2L514 412.7M520.4 654.5L520.4 653M520.4 411.2L520.4 412.7M525.8 654.5L525.8 653M525.8 411.2L525.8 412.7M530.5 654.5L530.5 653M530.5 411.2L530.5 412.7M534.7 654.5L534.7 653M534.7 411.2L534.7 412.7M538.4 654.5L538.4 651.5M538.4 411.2L538.4 414.2M562.7 654.5L562.7 653M562.7 411.2L562.7 412.7M577 654.5L577 653M577 411.2L577 412.7M587.1 654.5L587.1 653M587.1 411.2L587.1 412.7M594.9 654.5L594.9 653M594.9 411.2L594.9 412.7M601.3 654.5L601.3 653M601.3 411.2L601.3 412.7M606.8 654.5L606.8 653M606.8 411.2L606.8 412.7M611.5 654.5L611.5 653M611.5 411.2L611.5 412.7M615.6 654.5L615.6 653M615.6 411.2L615.6 412.7M376.5 428.1L378 428.1M619.3 428.1L617.8 428.1M376.5 444.9L378 444.9M619.3 444.9L617.8 444.9M376.5 461.8L378 461.8M619.3 461.8L617.8 461.8M376.5 478.6L378 478.6M619.3 478.6L617.8 478.6M376.5 495.4L379.5 495.4M619.3 495.4L616.3 495.4M376.5 512.3L378 512.3M619.3 512.3L617.8 512.3M376.5 529.1L378 529.1M619.3 529.1L617.8 529.1M376.5 546L378 546M619.3 546L617.8 546M376.5 562.9L378 562.9M619.3 562.9L617.8 562.9M376.5 579.7L379.5 579.7M619.3 579.7L616.3 579.7M376.5 596.5L378 596.5M619.3 596.5L617.8 596.5M376.5 613.4L378 613.4M619.3 613.4L617.8 613.4M376.5 630.2L378 630.2M619.3 630.2L617.8 630.2M376.5 647.1L378 647.1M619.3 647.1L617.8 647.1" stroke="#262626" stroke-width="1.35" fill="none"/>
<rect x="376.5" y="411.2" width="242.8" height="243.3" fill="none" stroke="#262626" stroke-width="1.35"/>
<text x="318.3" y="417.7" font-size="16" text-anchor="start" fill="#262626" stroke="#262626">(d)</text>
<text x="497.6" y="703.6" font-size="17.75" text-anchor="middle" fill="#262626" stroke="#262626">Frequency (Hz) (spacecraft frame)</text>
<g transform="translate(326.8 532.6) rotate(-90)">
<text x="0" y="0" font-size="17.8" text-anchor="middle" fill="#262626" stroke="#262626">PSD (nT<tspan font-size="14.1" dy="-8.6">2</tspan><tspan dy="8.6">Hz</tspan><tspan font-size="14.1" dy="-8.6">-1</tspan><tspan dy="8.6">)</tspan></text>
</g>
<text x="407.7" y="382.2" font-size="17.85" fill="#00f" stroke="#00f">Frequency/f</text>
<text x="502.2" y="391" font-size="14.4" fill="#00f" stroke="#00f">ci</text>
<text x="517.9" y="382.2" font-size="17.7" fill="#00f" stroke="#00f">(plasma frame)</text>
<text x="440.6" y="405.2" font-size="17.6" text-anchor="start" fill="#00f" stroke="#00f">0.143</text>
<text x="523" y="405.2" font-size="17.6" text-anchor="start" fill="#00f" stroke="#00f">2.084</text>
<text x="511.9" y="615.7" font-size="20" fill="#000" stroke="#000">f<tspan font-size="16" dy="11.6">ci</tspan></text>
</svg>
</body></html>
